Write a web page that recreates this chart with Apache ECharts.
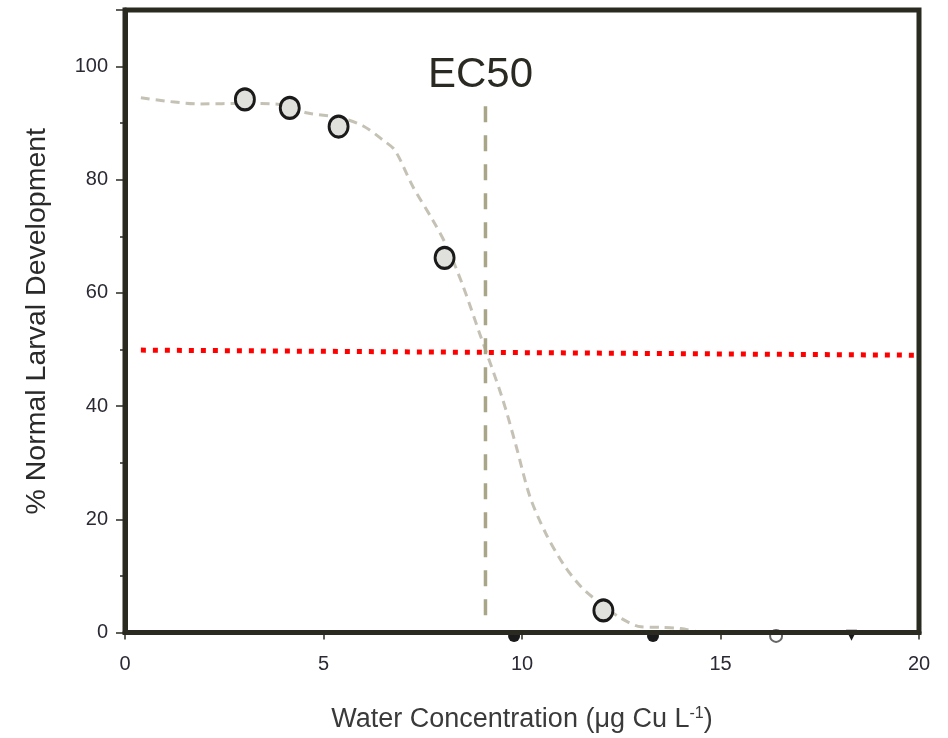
<!DOCTYPE html>
<html>
<head>
<meta charset="utf-8">
<script src="https://cdn.jsdelivr.net/npm/echarts@6/dist/echarts.min.js"></script>
<style>
  html, body { margin: 0; padding: 0; background: #fff; }
  #main { width: 948px; height: 738px; }
</style>
</head>
<body>
<div id="main"></div>
<script>
// measured points (x = µg Cu/L, y = % normal development)
var obsPoints = [[3.02, 94.2], [4.15, 92.7], [5.38, 89.4], [8.05, 66.2], [12.05, 3.9]];
// markers that sit under the x axis line
var hiddenFilled = [[9.8, -0.6], [13.3, -0.6]];
var hiddenOpen = [[16.4, -0.6]];
var hiddenTri = [[18.3, -0.5]];
// fitted dose-response curve
var fitCurve = [
  [0.4, 94.5], [1.9, 93.4], [3.0, 93.5], [3.8, 93.4], [4.6, 91.8], [5.4, 91.0],
  [6.0, 89.5], [6.5, 87.0], [6.8, 85.2], [7.25, 78.8], [7.75, 72.9], [8.1, 68.3],
  [8.5, 61.5], [8.93, 52.9], [9.5, 41.5], [9.85, 33], [10.2, 24], [10.6, 17.5],
  [11.05, 12], [11.5, 8], [12.0, 5], [12.5, 2.5], [13.0, 1.0], [13.5, 0.9],
  [14.0, 0.7], [14.5, 0.0], [15.2, -1]
];
var ec50X = 9.08;
var ec50Top = 93.0;
var ec50Line = [[ec50X, ec50Top], [ec50X, 0.8]];
var halfLine = [[0.4, 49.9], [19.9, 49.0]];
var xTicks = [0, 5, 10, 15, 20];
var yTicks = [0, 20, 40, 60, 80, 100];

var dark = "#2b2a20";
var chart = echarts.init(document.getElementById("main"));

chart.setOption({
  animation: false,
  backgroundColor: "#fff",
  grid: {
    left: 125,
    right: 29,
    top: 10,
    bottom: 105,
    show: true,
    borderColor: dark,
    borderWidth: 5
  },
  xAxis: {
    type: "value",
    z: 10,
    min: xTicks[0],
    max: xTicks[xTicks.length - 1],
    interval: 5,
    name: "Water Concentration (μg Cu L{sup|-1})",
    nameLocation: "middle",
    nameGap: 73,
    nameTextStyle: {
      fontFamily: "Liberation Sans",
      fontSize: 27,
      color: "#3a3a3a",
      rich: {
        sup: { fontSize: 16, verticalAlign: "top", color: "#3a3a3a", padding: [0, 0, 12, 0] }
      }
    },
    axisLine: { lineStyle: { color: dark, width: 5 } },
    axisTick: { length: 7, lineStyle: { color: dark, width: 1.5 } },
    axisLabel: { margin: 22, fontFamily: "Liberation Sans", fontSize: 20, color: "#2a2a35" },
    splitLine: { show: false }
  },
  yAxis: {
    type: "value",
    z: 10,
    min: 0,
    max: 110,
    interval: 20,
    name: "% Normal Larval Development",
    nameLocation: "middle",
    nameGap: 73,
    nameTextStyle: { fontFamily: "Liberation Sans", fontSize: 28.5, color: "#2a2a2a" },
    axisLine: { lineStyle: { color: dark, width: 5 } },
    axisTick: { length: 9, lineStyle: { color: dark, width: 1.5 } },
    minorTick: { show: true, splitNumber: 2, length: 5, lineStyle: { color: dark, width: 1.5 } },
    axisLabel: {
      margin: 17,
      fontFamily: "Liberation Sans",
      fontSize: 20,
      color: "#2a2a35",
      formatter: function (v) { return yTicks.indexOf(v) >= 0 ? String(v) : ""; }
    },
    splitLine: { show: false }
  },
  series: [
    {
      type: "scatter",
      data: hiddenFilled,
      clip: false,
      symbol: "circle",
      symbolSize: 12,
      itemStyle: { color: "#1a1a1a", opacity: 1 }
    },
    {
      type: "scatter",
      data: hiddenOpen,
      clip: false,
      symbol: "circle",
      symbolSize: 12,
      itemStyle: { color: "#fff", borderColor: "#666", borderWidth: 2, opacity: 1 }
    },
    {
      type: "scatter",
      data: hiddenTri,
      clip: false,
      symbol: "triangle",
      symbolRotate: 180,
      symbolSize: 11,
      itemStyle: { color: "#1a1a1a", opacity: 1 }
    },
    {
      type: "line",
      data: fitCurve,
      smooth: 0.3,
      showSymbol: false,
      symbol: "none",
      lineStyle: { color: "#c5c2b5", width: 3, type: [9, 6] },
      z: 3
    },
    {
      type: "line",
      data: halfLine,
      showSymbol: false,
      symbol: "none",
      lineStyle: { color: "#ff0000", width: 5, type: [5, 7] },
      z: 4
    },
    {
      type: "line",
      data: ec50Line,
      symbol: "none",
      lineStyle: { color: "#a9a587", width: 3.5, type: [16, 13] },
      z: 4
    },
    {
      // EC50 caption sitting on top of the vertical line
      type: "scatter",
      data: [[ec50X, ec50Top]],
      symbolSize: 0,
      silent: true,
      itemStyle: { opacity: 1 },
      label: {
        show: true,
        position: "top",
        formatter: "EC50",
        distance: 10,
        offset: [-5, 0],
        fontFamily: "Liberation Sans",
        fontSize: 42,
        color: "#2a2a22"
      }
    },
    {
      type: "scatter",
      data: obsPoints,
      symbol: "circle",
      symbolSize: [19, 21],
      itemStyle: { color: "#e0e0dc", borderColor: "#1a1a1a", borderWidth: 3, opacity: 1 },
      z: 6
    }
  ]
});
</script>
</body>
</html>
